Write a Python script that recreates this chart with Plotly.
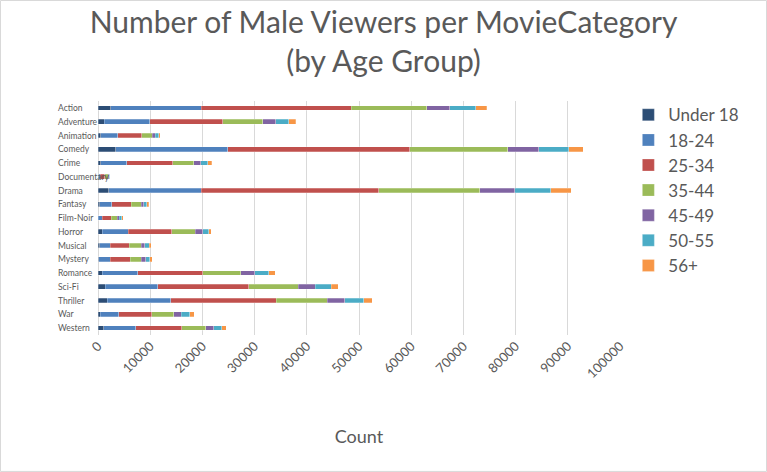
import plotly.graph_objects as go

categories = ["Action", "Adventure", "Animation", "Comedy", "Crime", "Documentary", "Drama",
              "Fantasy", "Film-Noir", "Horror", "Musical", "Mystery", "Romance", "Sci-Fi",
              "Thriller", "War", "Western"]

age_groups = ["Under 18", "18-24", "25-34", "35-44", "45-49", "50-55", "56+"]

under_18 = [2430, 1150, 520, 3390, 520, 190, 2050, 330, 70, 770, 330, 190, 840, 1410, 1800, 460, 1090]
age_18_24 = [17370, 8750, 3310, 21510, 5030, 270, 17750, 2350, 770, 4980, 1970, 2110, 6820, 10020, 12120, 3560, 6130]
age_25_34 = [28720, 13980, 4540, 34850, 8810, 880, 33960, 3710, 1720, 8360, 3710, 3900, 12390, 17430, 20240, 6320, 8810]
age_35_44 = [14430, 7660, 2050, 18770, 3970, 650, 19340, 1910, 1150, 4540, 2230, 2100, 7280, 9510, 9770, 4160, 4600]
age_45_49 = [4400, 2550, 580, 5930, 1390, 130, 6700, 510, 380, 1460, 700, 830, 2740, 3260, 3370, 1400, 1530]
age_50_55 = [4980, 2490, 620, 5750, 1350, 130, 6950, 570, 450, 1150, 830, 830, 2620, 3060, 3580, 1720, 1590]
age_56_plus = [2170, 1280, 330, 2750, 700, 80, 3900, 330, 320, 450, 450, 460, 1280, 1340, 1670, 840, 840]

series = [under_18, age_18_24, age_25_34, age_35_44, age_45_49, age_50_55, age_56_plus]
colors = ["#2C4D75", "#4F81BD", "#C0504D", "#9BBB59", "#8064A2", "#4BACC6", "#F79646"]

fig = go.Figure()
for name, vals, col in zip(age_groups, series, colors):
    fig.add_trace(go.Bar(y=categories, x=vals, name=name, orientation="h",
                         marker=dict(color=col, line=dict(color="rgba(255,255,255,0.5)", width=0.5))))

# left-aligned category labels like the original
for c in categories:
    fig.add_annotation(x=-0.08, xref="paper", y=c, yref="y", text=c, showarrow=False,
                       xanchor="left", font=dict(size=8.5, color="#595959"))

# light outer frame
fig.add_shape(type="rect", xref="paper", yref="paper", x0=-0.1868, x1=1.2807, y0=-0.583, y1=1.4295,
              line=dict(color="#D9D9D9", width=1))

fig.update_layout(
    barmode="stack",
    bargap=0.64,
    width=767, height=472,
    margin=dict(l=98, r=147, t=101, b=137),
    paper_bgcolor="white", plot_bgcolor="white",
    font=dict(family="Lato", color="#595959"),
    title=dict(text="Number of Male Viewers per MovieCategory<br>(by Age Group)",
               x=0.5, xanchor="center", y=0.93, yanchor="top",
               font=dict(size=30, color="#595959")),
    legend=dict(x=1.016, y=1.016, xanchor="left", yanchor="top", traceorder="normal",
                font=dict(size=17, color="#595959"), tracegroupgap=0, itemwidth=30),
)
fig.update_xaxes(range=[0, 100000], dtick=10000, tickangle=-45, tickformat="d",
                 showgrid=True, gridcolor="#D9D9D9", gridwidth=1,
                 zeroline=True, zerolinecolor="#D9D9D9", zerolinewidth=1,
                 tickfont=dict(size=13, color="#595959"),
                 title=dict(text="Count", font=dict(size=18, color="#595959"), standoff=50))
fig.update_yaxes(autorange="reversed", showticklabels=False, showgrid=False)

fig.write_html("out.html", config={"displayModeBar": False},
               post_script="document.body.style.margin='0';document.body.style.overflow='hidden';")
